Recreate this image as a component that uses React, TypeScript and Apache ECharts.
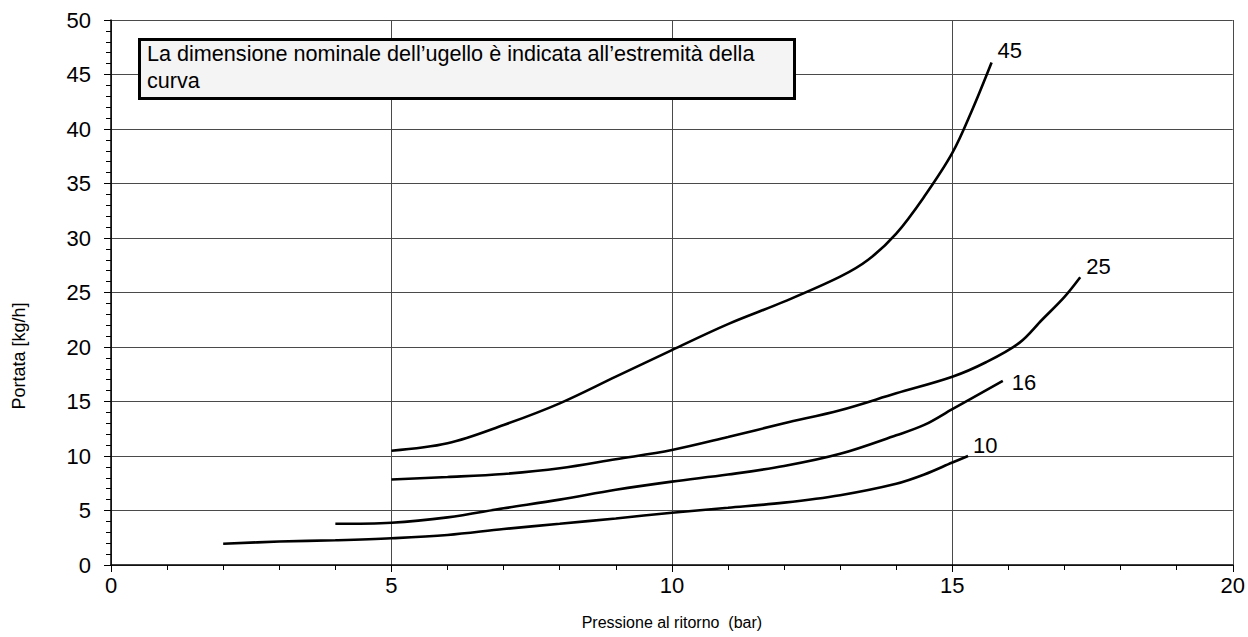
import React, { useEffect, useRef } from "react";
import * as echarts from "echarts";

const xTicks = [0, 5, 10, 15, 20];
const yTicks = [0, 5, 10, 15, 20, 25, 30, 35, 40, 45, 50];

const curve10: [number, number][] = [
  [2, 1.95], [3, 2.15], [4, 2.27], [5, 2.45], [6, 2.75], [7, 3.3], [8, 3.78],
  [9, 4.27], [10, 4.8], [11, 5.25], [12, 5.72], [13, 6.4], [14, 7.45],
  [14.5, 8.3], [15, 9.4], [15.28, 10.0],
];
const curve16: [number, number][] = [
  [4, 3.78], [5, 3.88], [6, 4.37], [7, 5.2], [8, 6.0], [9, 6.9],
  [10, 7.65], [11, 8.3], [12, 9.08], [13, 10.2], [14, 11.9], [14.5, 12.85],
  [15, 14.3], [15.9, 16.9],
];
const curve25: [number, number][] = [
  [5, 7.85], [6, 8.07], [7, 8.35], [8, 8.87], [9, 9.7], [10, 10.55],
  [11, 11.74], [12, 13.0], [13, 14.2], [14, 15.75], [15, 17.27], [15.6, 18.6],
  [16.2, 20.4], [16.6, 22.5], [17, 24.6], [17.28, 26.4],
];
const curve45: [number, number][] = [
  [5, 10.48], [6, 11.16], [7, 12.84], [8, 14.83], [9, 17.28], [10, 19.72],
  [11, 22.1], [12, 24.16], [13, 26.45], [13.5, 28.0], [14, 30.4],
  [14.5, 33.8], [15, 37.8], [15.35, 41.7], [15.7, 46.1],
];

const seriesNames = ["10", "16", "25", "45"];
const seriesData = [curve10, curve16, curve25, curve45];
const labelOffsets: [number, number][] = [[5, -11], [9, 2], [6, -11], [6, -12]];

const xName = "Pressione al ritorno  (bar)";
const yName = "Portata [kg/h]";
const noteLines = [
  "La dimensione nominale dell\u2019ugello \u00e8 indicata all\u2019estremit\u00e0 della",
  "curva",
];

const FONT = "'Liberation Sans', Arial, Helvetica, sans-serif";

export default function App() {
  const ref = useRef<HTMLDivElement>(null);
  useEffect(() => {
    if (!ref.current) return;
    const chart = echarts.init(ref.current, undefined, { renderer: "svg" });
    const axisCommon = {
      type: "value" as const,
      interval: 5,
      axisLine: { show: true, lineStyle: { color: "#000", width: 1.5 } },
      axisTick: { show: true, length: 7, lineStyle: { color: "#000", width: 1 } },
      minorTick: { show: true, splitNumber: 5, length: 5, lineStyle: { color: "#000", width: 1 } },
      splitLine: { show: true, lineStyle: { color: "#4a4a4a", width: 1 } },
      axisLabel: { color: "#000", fontSize: 22, fontFamily: FONT },
    };
    chart.setOption({
      animation: false,
      backgroundColor: "#fff",
      textStyle: { fontFamily: FONT },
      grid: { left: 111, right: 13, top: 20, bottom: 72, containLabel: false },
      xAxis: {
        ...axisCommon,
        min: xTicks[0],
        max: xTicks[xTicks.length - 1],
        axisLabel: { ...axisCommon.axisLabel, margin: 9 },
        name: xName,
        nameLocation: "middle",
        nameGap: 49,
        nameTextStyle: { color: "#000", fontSize: 16, fontFamily: FONT },
      },
      yAxis: {
        ...axisCommon,
        min: yTicks[0],
        max: yTicks[yTicks.length - 1],
        axisLabel: { ...axisCommon.axisLabel, margin: 20 },
      },
      series: seriesData.map((d, i) => ({
        type: "line",
        name: seriesNames[i],
        data: d,
        smooth: 0.35,
        symbol: "none",
        lineStyle: { color: "#000", width: 2.6 },
        endLabel: {
          show: true,
          formatter: seriesNames[i],
          color: "#000",
          fontSize: 22,
          fontFamily: FONT,
          distance: 0,
          offset: labelOffsets[i],
        },
      })),
      graphic: [
        {
          type: "text",
          x: 19,
          y: 356,
          rotation: Math.PI / 2,
          style: {
            text: yName,
            fontSize: 18,
            fill: "#000",
            fontFamily: FONT,
            align: "center",
            verticalAlign: "middle",
          },
        },
        {
          type: "rect",
          left: 138,
          top: 38,
          shape: { width: 655, height: 59 },
          style: { fill: "#f4f4f4", stroke: "#000", lineWidth: 3 },
          z: 10,
        },
        {
          type: "text",
          left: 147,
          top: 40,
          style: {
            text: noteLines.join("\n"),
            fontSize: 21.6,
            lineHeight: 27,
            fill: "#000",
            fontFamily: FONT,
          },
          z: 11,
        },
      ],
    });
    return () => chart.dispose();
  }, []);
  return (
    <div
      ref={ref}
      style={{ position: "fixed", left: 0, top: 0, width: 1248, height: 637 }}
    />
  );
}
